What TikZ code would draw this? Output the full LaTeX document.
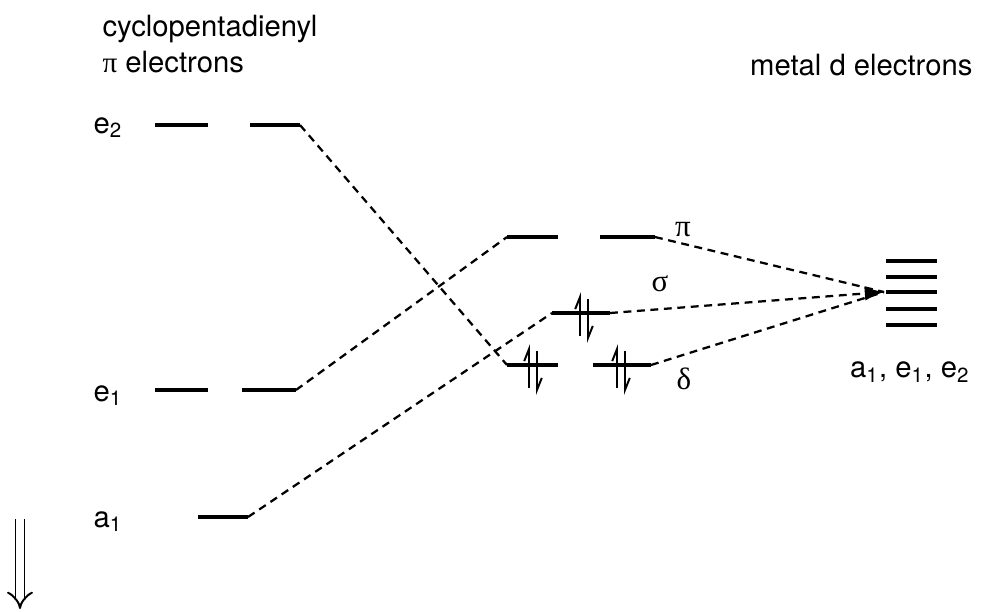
\documentclass[tikz,border=0pt]{standalone}
\usepackage{fontspec}
\setmainfont{TeX Gyre Heros}
\newfontfamily\grk{Liberation Serif}
\usetikzlibrary{arrows.meta}

\begin{document}
\begin{tikzpicture}[
  x=0.0125cm, y=-0.0125cm,
  lvl/.style={line width=1.1pt},
  corr/.style={line width=0.8pt,dash pattern=on 2.8pt off 2pt},
  spinup/.style={line width=0.7pt,-{Straight Barb[harpoon,length=1.5mm,width=1.2mm]}},
  lbl/.style={font=\fontsize{10.4}{12}\selectfont,inner sep=0pt},
  glbl/.style={font=\fontsize{11}{12}\grk,inner sep=0pt}
]
\useasboundingbox (0,0) rectangle (985,611);

% headings
\node[lbl,anchor=base west] (cptop) at (102,36) {cyclopentadienyl};
\node[lbl,anchor=base west] (cpbot) at (102,72) {{\grk π} electrons};
\node[lbl,anchor=base east] (mtitle) at (973,75) {metal d electrons};

% ligand levels
\node[lbl,anchor=base west] (le2) at (93,133) {e\textsubscript{2}};
\node[lbl,anchor=base west] (le1) at (93,401) {e\textsubscript{1}};
\node[lbl,anchor=base west] (la1) at (93,527) {a\textsubscript{1}};
\draw[lvl] (155,125) -- (208,125);
\draw[lvl] (250,125) -- (300,125) coordinate (e2end);
\draw[lvl] (155,390) -- (208,390);
\draw[lvl] (242,390) -- (296,390) coordinate (e1end);
\draw[lvl] (198,517) -- (248,517) coordinate (a1end);

% complex levels
\draw[lvl] (507,237) coordinate (pia) -- (558,237);
\draw[lvl] (600,237) -- (655,237) coordinate (pib);
\draw[lvl] (552,313) coordinate (sga) -- (610,313) coordinate (sgb);
\draw[lvl] (507,365) coordinate (dla) -- (558,365);
\draw[lvl] (593,365) -- (651,365) coordinate (dlb);
\node[glbl] (pilab) at (683,230) {π};
\node[glbl] (sglab) at (660,284) {σ};
\node[glbl] (dllab) at (684,379) {δ};

% electron pairs
\foreach \x/\y in {580/313,529/365,617/365}{
  \draw[spinup] (\x,\y+23) -- (\x,\y-21);
  \draw[spinup] (\x+8,\y-14) -- (\x+8,\y+30);
}

% metal levels
\foreach \y in {261,277,292,309,325}
  \draw[lvl] (886,\y) -- (937,\y);
\coordinate (dmid) at (884,292);
\node[lbl] (mlab) at (910,372) {a\textsubscript{1}, e\textsubscript{1}, e\textsubscript{2}};

% correlation lines
\draw[corr] (e2end) -- (dla);
\draw[corr] (e1end) -- (pia);
\draw[corr] (a1end) -- (sga);
\draw[corr] (pib) -- (dmid);
\draw[corr,-{Latex[length=2.4mm,width=1.8mm]}] (sgb) -- (dmid);
\draw[corr] (dlb) -- (dmid);

% energy arrow
\coordinate (etop) at (20,519);
\coordinate (ebot) at (20,609);
\draw[double,double distance=2.5pt,line width=0.7pt,-{Implies[length=2.6mm]}] (etop) -- (ebot);
\end{tikzpicture}
\end{document}
